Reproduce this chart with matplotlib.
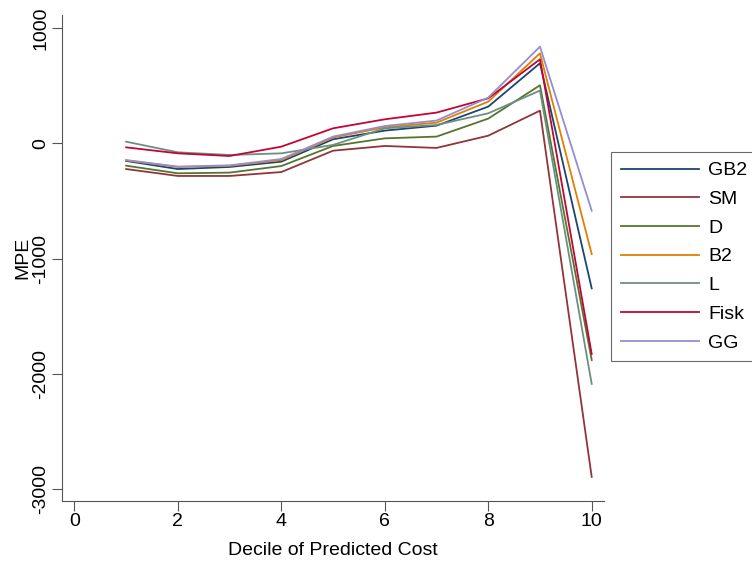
import matplotlib.pyplot as plt
import numpy as np

plt.rcParams['font.family'] = ['Liberation Sans', 'DejaVu Sans']

# Données (MPE par décile)
deciles = [1, 2, 3, 4, 5, 6, 7, 8, 9, 10]
gb2 = [-153, -223, -205, -159, 35, 110, 153, 318, 694, -1257]
sm = [-223, -283, -283, -249, -64, -23, -40, 66, 283, -2891]
d = [-194, -260, -254, -197, -23, 43, 58, 214, 503, -1878]
b2 = [-148, -205, -195, -145, 50, 139, 179, 361, 780, -960]
l = [14, -78, -101, -87, -14, 130, 159, 260, 457, -2085]
fisk = [-35, -87, -110, -29, 130, 208, 266, 390, 728, -1826]
gg = [-145, -202, -191, -136, 58, 150, 197, 396, 838, -584]

series = {"GB2": gb2, "SM": sm, "D": d, "B2": b2, "L": l, "Fisk": fisk, "GG": gg}
colors = ['#1a476f', '#90353b', '#55752f', '#e37e00', '#6e8e84', '#c10534', '#938dd2']

fig = plt.figure(figsize=(7.52, 5.61), dpi=100)
ax = fig.add_axes([62 / 752, 1 - 501 / 561, (603.6 - 62) / 752, (501 - 15) / 561])

for (name, vals), c in zip(series.items(), colors):
    ax.plot(deciles, vals, color=c, lw=1.3, label=name)

ax.set_xlim(-0.24, 10.23)
ax.set_ylim(-3100, 1112)
ax.set_xticks(range(0, 11, 2))
ax.set_yticks([-3000, -2000, -1000, 0, 1000])
ax.set_yticklabels(['-3000', '-2000', '-1000', '0', '1000'], rotation=90, va='center')
ax.tick_params(labelsize=14, color='#555555', length=7, pad=2)
for s in ['top', 'right']:
    ax.spines[s].set_visible(False)
for s in ['left', 'bottom']:
    ax.spines[s].set_color('#555555')
ax.set_xlabel('Decile of Predicted Cost', fontsize=14, labelpad=8)
ax.set_ylabel('MPE', fontsize=14, labelpad=1)

leg = fig.legend(loc='upper left', bbox_to_anchor=(611 / 752, 1 - 152 / 561),
                 fontsize=14, frameon=True, fancybox=False, edgecolor='#444444',
                 handlelength=4.0, labelspacing=0.57, borderpad=0.5, handletextpad=0.5,
                 borderaxespad=0)
leg.get_frame().set_linewidth(0.8)

fig.savefig('out.png', dpi=100)
